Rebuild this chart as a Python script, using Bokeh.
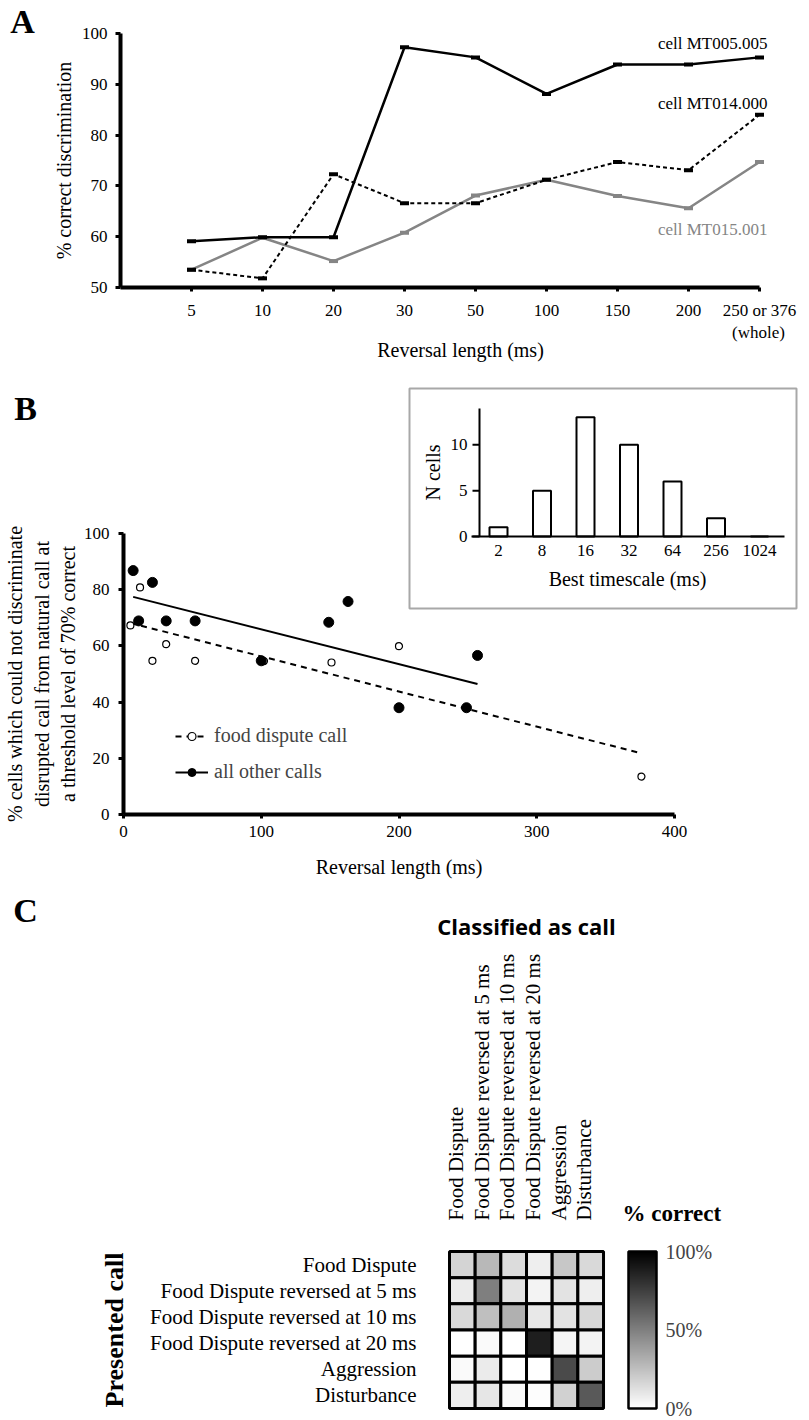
import math
import numpy as np
from bokeh.plotting import figure
from bokeh.models import (Range1d, FixedTicker, Label, Legend, LegendItem, ColorBar,
                          LinearColorMapper, ColumnDataSource, LinearAxis)
from bokeh.layouts import column
from bokeh.palettes import Greys256
from bokeh.core.properties import value
from bokeh.transform import transform
from bokeh.embed import file_html
from bokeh.resources import INLINE

SERIF = "Liberation Serif"
SANS = "Open Sans"

# ---------------- Panel A data ----------------
a_categories = ["5", "10", "20", "30", "50", "100", "150", "200", "250 or 376"]
a_mt005_005 = [59.1, 59.9, 59.9, 97.3, 95.3, 88.1, 93.9, 93.9, 95.3]
a_mt014_000 = [53.5, 51.8, 72.3, 66.6, 66.6, 71.2, 74.7, 73.1, 84.0]
a_mt015_001 = [53.5, 59.8, 55.2, 60.8, 68.1, 71.2, 68.0, 65.6, 74.7]
a_yticks = [50, 60, 70, 80, 90, 100]

# ---------------- Panel B data ----------------
b_food_x = [5, 12, 21, 31, 52, 102, 151, 200, 376]
b_food_y = [67.3, 80.8, 54.7, 60.6, 54.7, 54.6, 54.1, 59.9, 13.5]
b_other_x = [7, 11, 21, 31, 52, 100, 149, 163, 200, 249, 257]
b_other_y = [86.8, 68.9, 82.6, 68.9, 68.9, 54.7, 68.4, 75.8, 38.0, 38.0, 56.6]
b_xticks = [0, 100, 200, 300, 400]
b_yticks = [0, 20, 40, 60, 80, 100]

# inset histogram
inset_timescales = ["2", "8", "16", "32", "64", "256", "1024"]
inset_counts = [1, 5, 13, 10, 6, 2, 0]
inset_yticks = [0, 5, 10]

# ---------------- Panel C data ----------------
c_calls = ["Food Dispute", "Food Dispute reversed at 5 ms", "Food Dispute reversed at 10 ms",
           "Food Dispute reversed at 20 ms", "Aggression", "Disturbance"]
c_food_dispute = [17, 28, 14, 7, 22, 15]
c_rev_5ms = [8, 50, 11, 5, 11, 7]
c_rev_10ms = [15, 25, 31, 9, 11, 16]
c_rev_20ms = [0, 2, 0, 88, 4, 5]
c_aggression = [2, 8, 0, 0, 71, 20]
c_disturbance = [7, 10, 2, 1, 18, 65]
c_rows = [c_food_dispute, c_rev_5ms, c_rev_10ms, c_rev_20ms, c_aggression, c_disturbance]

W = 800


def style_axis(ax, size="17px", lw=4):
    ax.axis_line_width = lw
    ax.axis_line_color = "black"
    ax.major_tick_line_width = 3
    ax.major_tick_line_color = "black"
    ax.major_tick_in = 0
    ax.major_tick_out = 5
    ax.minor_tick_line_color = None
    ax.major_label_text_font = SERIF
    ax.major_label_text_font_size = size
    ax.major_label_text_color = "black"
    ax.axis_label_text_font = SERIF
    ax.axis_label_text_font_style = "normal"
    ax.axis_label_text_font_size = "20px"
    ax.axis_label_text_color = "black"


def lab(p, x, y, text, size="17px", bold=False, color="black", align="center", font=SERIF, angle=0):
    p.add_layout(Label(x=x, y=y, text=text, text_font=font, text_font_size=size,
                       text_font_style="bold" if bold else "normal", text_color=color,
                       text_align=align, text_baseline="middle", angle=angle))


def make_fig(h, xr, yr):
    p = figure(width=W, height=h, x_range=xr, y_range=yr, x_axis_type=None, y_axis_type=None,
               output_backend="svg", toolbar_location=None, min_border=0,
               min_border_left=0, min_border_right=0, min_border_top=0, min_border_bottom=0)
    p.outline_line_color = None
    return p


# ======================= Panel A =======================
A_TOP, A_H = 0, 375


def ax_(px):
    return -1 + (px - 120) / 71.0


def ay_(py):
    return 50 + (287 - py) / 5.08


pa = make_fig(A_H, Range1d(ax_(0), ax_(W)), Range1d(ay_(A_TOP + A_H), ay_(A_TOP)))

xa = LinearAxis(ticker=FixedTicker(ticks=list(range(len(a_categories)))),
                major_label_overrides={i: c for i, c in enumerate(a_categories)},
                bounds=(-1, 8), fixed_location=50)
style_axis(xa)
xa.major_tick_out = 4
xa.major_label_standoff = 9
pa.add_layout(xa, "below")
ya = LinearAxis(ticker=FixedTicker(ticks=a_yticks), bounds=(50, 100), fixed_location=-1,
                axis_label="% correct discrimination")
style_axis(ya)
ya.major_label_standoff = 8
ya.axis_label_standoff = 4
pa.add_layout(ya, "left")

xs = list(range(len(a_categories)))
pa.line(xs, a_mt015_001, line_color="#858585", line_width=2.5)
pa.scatter(xs, a_mt015_001, marker="dash", size=9, line_color="#858585", line_width=4)
pa.line(xs, a_mt014_000, line_color="black", line_width=2, line_dash="4 3")
pa.scatter(xs, a_mt014_000, marker="dash", size=9, line_color="black", line_width=4)
pa.line(xs, a_mt005_005, line_color="black", line_width=2.5)
pa.scatter(xs, a_mt005_005, marker="dash", size=9, line_color="black", line_width=4)

lab(pa, ax_(767), 98.0, "cell MT005.005", align="right")
lab(pa, ax_(767), 86.2, "cell MT014.000", align="right")
lab(pa, ax_(767), 61.5, "cell MT015.001", align="right", color="#858585")
lab(pa, ax_(758), ay_(332), "(whole)")
lab(pa, ax_(460), ay_(349), "Reversal length (ms)", size="20px")
lab(pa, ax_(22), ay_(21), "A", size="34px", bold=True)

# ======================= Panel B =======================
B_TOP, B_H = 375, 515


def bx_(px):
    return (px - 123) / 1.3775


def by_(py):
    return (814 - py) / 2.81


def ix_(px):
    return (px - 498) / 43.5


def iy_(py):
    return (536 - py) / 9.17


pb = make_fig(B_H, Range1d(bx_(0), bx_(W)), Range1d(by_(B_TOP + B_H), by_(B_TOP)))
pb.extra_x_ranges = {"ix": Range1d(ix_(0), ix_(W))}
pb.extra_y_ranges = {"iy": Range1d(iy_(B_TOP + B_H), iy_(B_TOP))}

xb = LinearAxis(ticker=FixedTicker(ticks=b_xticks), bounds=(0, 400), fixed_location=0,
                axis_label="Reversal length (ms)")
style_axis(xb)
xb.major_tick_out = 4
xb.major_label_standoff = 7
xb.axis_label_standoff = 16
pb.add_layout(xb, "below")
yb = LinearAxis(ticker=FixedTicker(ticks=b_yticks), bounds=(0, 100), fixed_location=0,
                axis_label="% cells which could not discriminate\ndisrupted call from natural call at\na threshold level of 70% correct")
style_axis(yb)
yb.major_label_standoff = 9
yb.axis_label_standoff = 2
yb.axis_label_text_line_height = 1.2
pb.add_layout(yb, "left")

# regression lines fitted to the points
fk, fb = np.polyfit(b_food_x, b_food_y, 1)
ok, ob = np.polyfit(b_other_x, b_other_y, 1)
fx = [min(b_food_x), max(b_food_x)]
ox = [min(b_other_x), max(b_other_x)]
r_fline = pb.line(fx, [fk * v + fb for v in fx], line_color="black", line_width=2, line_dash="6 5")
r_oline = pb.line(ox, [ok * v + ob for v in ox], line_color="black", line_width=2)
r_fpts = pb.scatter(b_food_x, b_food_y, marker="circle", size=7, fill_color="white",
                    line_color="black", line_width=1.2)
r_opts = pb.scatter(b_other_x, b_other_y, marker="circle", size=10, fill_color="black",
                    line_color="black")

leg = Legend(items=[LegendItem(label="food dispute call", renderers=[r_fline, r_fpts]),
                    LegendItem(label="all other calls", renderers=[r_oline, r_opts])],
             location=(175, (B_TOP + B_H) - 783), padding=0, margin=0, spacing=13, glyph_width=33,
             glyph_height=20, label_height=20, label_standoff=6, label_text_font=SERIF,
             label_text_font_size="20px", border_line_color=None, background_fill_alpha=0)
pb.add_layout(leg, "center")

# inset histogram drawn on its own ranges
kw = dict(x_range_name="ix", y_range_name="iy")
pb.quad(left=[ix_(409)], right=[ix_(796)], bottom=[iy_(608)], top=[iy_(388)], fill_color=None,
        line_color="#a8a8a8", line_width=2, **kw)
pb.vbar(x=list(range(len(inset_counts))), top=inset_counts, bottom=0, width=18 / 43.5,
        fill_color="white", line_color="black", line_width=2, **kw)
pb.segment(x0=[ix_(479)], y0=[0], x1=[ix_(479)], y1=[iy_(408)], line_color="black", line_width=2, **kw)
pb.segment(x0=[ix_(471)], y0=[0], x1=[ix_(784)], y1=[0], line_color="black", line_width=2, **kw)
pb.segment(x0=[ix_(472)] * len(inset_yticks), y0=inset_yticks, x1=[ix_(479)] * len(inset_yticks),
           y1=inset_yticks, line_color="black", line_width=2, **kw)
pb.text(x=[ix_(467)] * len(inset_yticks), y=inset_yticks, text=[str(t) for t in inset_yticks],
        text_align="right", text_baseline="middle", text_font=value(SERIF), text_font_size="17px", **kw)
pb.text(x=list(range(len(inset_timescales))), y=[iy_(550)] * len(inset_timescales), text=inset_timescales,
        text_align="center", text_baseline="middle", text_font=value(SERIF), text_font_size="17px", **kw)
pb.text(x=[ix_(627)], y=[iy_(578)], text=["Best timescale (ms)"], text_align="center",
        text_baseline="middle", text_font=value(SERIF), text_font_size="20px", **kw)
pb.text(x=[ix_(432)], y=[iy_(472)], text=["N cells"], angle=math.pi / 2, text_align="center",
        text_baseline="middle", text_font=value(SERIF), text_font_size="20px", **kw)

lab(pb, bx_(25), by_(408), "B", size="34px", bold=True)

# ======================= Panel C =======================
C_TOP, C_H = 890, 530


def cx_(px):
    return -0.5 + (px - 449) / 25.67


def cy_(py):
    return -0.5 + (1408 - py) / 26.17


n = len(c_calls)
hx, hy, hv = [], [], []
for r, row in enumerate(c_rows):
    for c, v in enumerate(row):
        hx.append(c)
        hy.append(n - 1 - r)
        hv.append(v)
src = ColumnDataSource(dict(x=hx, y=hy, v=hv))
mapper = LinearColorMapper(palette=list(reversed(Greys256)), low=0, high=100)

pc = make_fig(C_H, Range1d(cx_(0), cx_(W)), Range1d(cy_(C_TOP + C_H), cy_(C_TOP)))
pc.rect(x="x", y="y", width=1, height=1, source=src, fill_color=transform("v", mapper),
        line_color="black", line_width=3)

# column labels sit slightly left of the cell centres in the reference
col_ticks = [round(i - 0.25, 2) for i in range(n)]
xc = LinearAxis(ticker=FixedTicker(ticks=col_ticks), fixed_location=n - 0.5,
                bounds=(-0.5, n - 0.5),
                major_label_overrides={t: c for t, c in zip(col_ticks, c_calls)})
style_axis(xc, size="21px")
xc.axis_line_color = None
xc.major_tick_line_color = None
xc.major_label_orientation = math.pi / 2
xc.major_label_standoff = 26
pc.add_layout(xc, "above")

yc = LinearAxis(ticker=FixedTicker(ticks=list(range(n))), fixed_location=-0.5,
                bounds=(-0.5, n - 0.5),
                major_label_overrides={n - 1 - i: c for i, c in enumerate(c_calls)},
                axis_label="Presented call")
style_axis(yc, size="21px")
yc.axis_line_color = None
yc.major_tick_line_color = None
yc.major_label_standoff = 28
yc.axis_label_standoff = 18
yc.axis_label_text_font_style = "bold"
yc.axis_label_text_font_size = "26px"
pc.add_layout(yc, "left")

cb = ColorBar(color_mapper=mapper, location=(628, (C_TOP + C_H) - 1408), width=28, height=157,
              padding=0, margin=0, ticker=FixedTicker(ticks=[0, 50, 100]),
              major_label_overrides={0: "0%", 50: "50%", 100: "100%"},
              major_tick_line_color=None, minor_tick_line_color=None,
              bar_line_color="black", bar_line_width=2.5, label_standoff=9,
              major_label_text_font=SERIF, major_label_text_font_size="20px",
              background_fill_alpha=0, border_line_color=None)
pc.add_layout(cb, "center")

lab(pc, cx_(526), cy_(925), "Classified as call", size="22px", bold=True, font=SANS)
lab(pc, cx_(622), cy_(1213), "% correct", size="23px", bold=True, align="left")
lab(pc, cx_(25), cy_(910), "C", size="34px", bold=True)

layout = column(pa, pb, pc, spacing=0)
open("out.html", "w").write(file_html(layout, INLINE))
